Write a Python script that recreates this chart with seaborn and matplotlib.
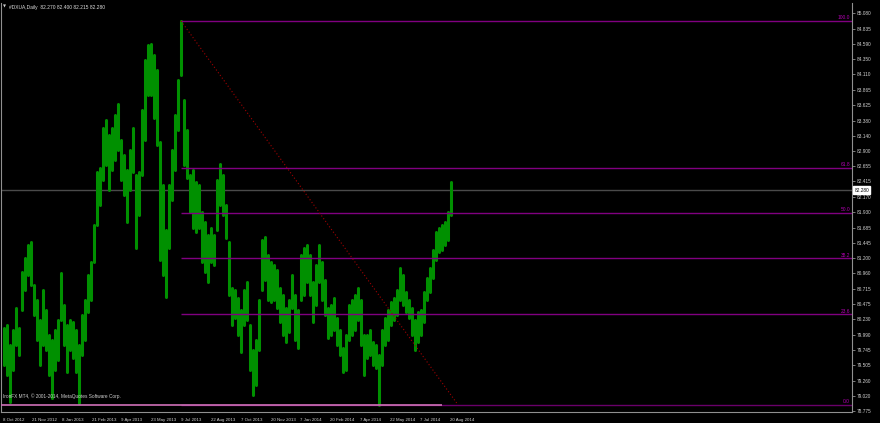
import numpy as np
import pandas as pd
import matplotlib
matplotlib.use("Agg")
import matplotlib.pyplot as plt
import seaborn as sns

# ---- data ----
bar_high = [80.09, 80.14, 79.83, 80.06, 80.41, 80.09, 80.98, 81.20, 81.41, 81.46,
            80.78, 80.54, 80.22, 80.70, 80.38, 79.98, 79.90, 80.06, 80.22, 80.97,
            80.46, 80.14, 80.22, 80.19, 80.06, 79.83, 80.30, 80.54, 80.93, 81.14,
            81.73, 82.57, 82.63, 83.26, 83.39, 83.15, 83.26, 83.47, 83.64, 83.07,
            82.83, 82.60, 82.91, 83.26, 82.52, 82.57, 83.55, 84.34, 84.58, 84.59,
            84.42, 84.18, 83.04, 82.36, 81.65, 82.36, 82.91, 83.47, 84.02, 84.96,
            83.71, 83.23, 82.52, 82.60, 82.41, 82.36, 81.93, 81.77, 81.57, 81.68,
            81.57, 82.44, 82.69, 82.52, 82.04, 81.46, 80.73, 80.70, 80.57, 80.38,
            80.70, 80.82, 80.14, 79.75, 79.90, 80.54, 81.49, 81.54, 81.25, 81.14,
            81.09, 81.01, 80.73, 80.62, 80.41, 80.54, 80.93, 80.62, 80.38, 81.25,
            81.36, 81.41, 81.25, 80.82, 81.09, 81.41, 81.14, 80.86, 80.41, 80.46,
            80.57, 80.25, 80.06, 79.78, 79.98, 80.46, 80.54, 80.62, 80.73, 80.54,
            79.98, 79.98, 80.06, 79.87, 79.83, 79.67, 80.06, 80.25, 80.38, 80.51,
            80.57, 80.70, 81.05, 80.93, 80.67, 80.54, 80.41, 80.22, 80.35, 80.38,
            80.67, 80.89, 81.05, 81.33, 81.62, 81.68, 81.73, 81.77, 81.93, 82.40]
bar_low = [79.51, 79.35, 78.92, 79.43, 79.83, 79.67, 80.38, 80.70, 80.93, 80.78,
           80.30, 79.90, 79.51, 79.83, 79.75, 79.35, 78.99, 79.43, 79.59, 80.22,
           79.83, 79.40, 79.75, 79.62, 79.40, 78.91, 79.67, 79.90, 80.35, 80.54,
           81.14, 81.73, 82.04, 82.44, 82.68, 82.28, 82.60, 82.76, 82.91, 82.44,
           82.20, 81.77, 82.28, 82.57, 81.36, 81.88, 82.52, 83.07, 83.79, 83.79,
           83.42, 82.99, 81.17, 80.93, 80.59, 81.36, 82.12, 82.60, 83.23, 84.10,
           82.68, 82.47, 81.93, 81.68, 81.62, 81.68, 81.14, 80.98, 80.82, 81.14,
           81.09, 81.65, 82.04, 81.88, 81.52, 80.62, 80.14, 80.25, 79.98, 79.71,
           80.14, 80.22, 79.43, 79.03, 79.19, 79.75, 80.70, 80.86, 80.54, 80.51,
           80.54, 80.41, 80.19, 79.98, 79.87, 80.03, 80.41, 79.90, 79.78, 80.54,
           80.62, 80.82, 80.62, 80.19, 80.46, 80.82, 80.54, 80.30, 79.94, 79.98,
           80.06, 79.83, 79.67, 79.40, 79.43, 79.90, 79.98, 80.06, 80.22, 79.83,
           79.35, 79.62, 79.67, 79.51, 79.46, 78.88, 79.51, 79.83, 79.90, 80.14,
           80.22, 80.30, 80.54, 80.46, 80.35, 80.25, 79.98, 79.75, 79.87, 79.98,
           80.19, 80.54, 80.67, 80.89, 81.17, 81.30, 81.33, 81.41, 81.49, 81.88]

date_labels = ["8 Oct 2012", "21 Nov 2012", "8 Jan 2013", "21 Feb 2013", "9 Apr 2013",
               "23 May 2013", "9 Jul 2013", "22 Aug 2013", "7 Oct 2013", "20 Nov 2013",
               "7 Jan 2014", "20 Feb 2014", "7 Apr 2014", "22 May 2014", "7 Jul 2014",
               "20 Aug 2014"]
price_ticks = [85.080, 84.835, 84.590, 84.350, 84.110, 83.865, 83.625, 83.380, 83.140,
               82.900, 82.655, 82.415, 82.170, 81.930, 81.685, 81.445, 81.200, 80.960,
               80.715, 80.475, 80.230, 79.990, 79.745, 79.505, 79.260, 79.020, 78.775]
fib_high = 84.958
fib_low = 78.878
fib_ratios = [100.0, 61.8, 50.0, 38.2, 23.6, 0.0]
last_close = 82.280
title_text = "#DXUA,Daily  82.270 82.400 82.215 82.280"
copyright_text = "IronFX MT4, \u00a9 2001-2014, MetaQuotes Software Corp."

# ---- layout ----
BAR_STEP = 3
date_tick_pos = [2, 31, 61, 91, 120, 150, 180, 210, 240, 270, 299, 329, 359, 389, 419, 449]
fib_start_x = 180
fib_end_x = 457
pink_end_x = 441

sns.set_style("dark", {"axes.facecolor": "black", "figure.facecolor": "black"})
plt.rcParams["font.family"] = ["Liberation Sans", "DejaVu Sans"]

fig = plt.figure(figsize=(8.8, 4.23), dpi=100)
fig.patch.set_facecolor("black")
ax = fig.add_axes([1 / 880, 11 / 423, 851 / 880, 409 / 423])
ax.set_facecolor("black")

n = len(bar_high)
bar_x = np.arange(1, n + 1) * BAR_STEP
df = pd.DataFrame({
    "bar": np.concatenate([bar_x, bar_x]),
    "price": np.concatenate([bar_low, bar_high]),
})
sns.lineplot(data=df, x="bar", y="price", units="bar", estimator=None,
             color="#009000", lw=2.2, ax=ax, legend=False, sort=True)

# bid line
ax.axhline(last_close, color="#4a4a4a", lw=1.0, zorder=1)

# fibonacci levels
rng = fib_high - fib_low
ax.hlines(fib_low, 0, pink_end_x, color="#d070b8", lw=1.2, zorder=3)
for r in fib_ratios:
    lvl = fib_low + rng * r / 100.0
    col = "#800080" if r != 0.0 else "#6a006a"
    ax.hlines(lvl, fib_start_x, 852, color=col, lw=1.0, zorder=2)
    ax.text(849, lvl + 0.01, f"{r:.1f}", color="#b400b4", fontsize=3.5,
            ha="right", va="bottom", zorder=5)

# fib trendline
tl = pd.DataFrame({"x": [fib_start_x, fib_end_x], "y": [fib_high, fib_low]})
sns.lineplot(data=tl, x="x", y="y", ax=ax, color="#a00000", lw=0.8,
             linestyle=(0, (1, 2)), legend=False)

ax.set_xlim(0, 851)
ax.set_ylim(78.764, 85.242)

# axes styling
for side in ["left", "right", "bottom"]:
    ax.spines[side].set_visible(True)
    ax.spines[side].set_color("#909090")
    ax.spines[side].set_linewidth(0.8)
ax.spines["top"].set_visible(False)

ax.yaxis.tick_right()
ax.set_yticks(price_ticks)
ax.set_yticklabels([f"{v:.3f}" for v in price_ticks])
ax.tick_params(axis="y", colors="#909090", labelcolor="#d0d0d0", labelsize=3.4,
               length=2, width=0.6, pad=1.5, direction="out")
ax.set_xticks(date_tick_pos)
ax.set_xticklabels(date_labels)
for lab in ax.get_xticklabels():
    lab.set_horizontalalignment("left")
ax.tick_params(axis="x", colors="#909090", labelcolor="#d0d0d0", labelsize=3.2,
               length=3, width=0.6, pad=1.2, direction="out")
ax.set_xlabel("")
ax.set_ylabel("")
ax.grid(False)

# bid price box
ax.text(853.5, last_close, f"{last_close:.3f}", transform=ax.transData,
        fontsize=3.4, color="black", ha="left", va="center", clip_on=False,
        bbox=dict(boxstyle="square,pad=0.25", fc="white", ec="white"))

# title and copyright
fig.text(3 / 880, 1 - 7 / 423, "\u25bc", color="#d0d0d0", fontsize=2.8,
         family=["DejaVu Sans"], va="center", ha="left")
fig.text(9 / 880, 1 - 7 / 423, title_text, color="#e0e0e0", fontsize=3.5,
         va="center", ha="left")
ax.text(2, 79.02, copyright_text, color="#d0d0d0", fontsize=3.4,
        ha="left", va="center")

fig.savefig("out.png", dpi=100, facecolor="black")
